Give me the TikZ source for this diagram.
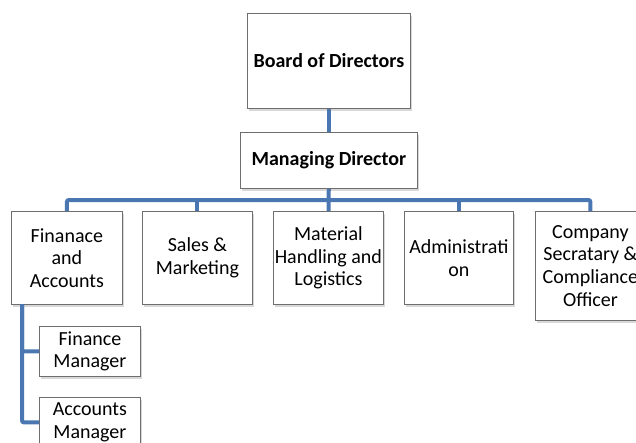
\documentclass[tikz,border=0pt]{standalone}
\usepackage{fontspec}
\setmainfont{Carlito}
\usetikzlibrary{positioning,shadows}

\definecolor{linkblue}{RGB}{74,118,178}
\definecolor{boxgray}{RGB}{110,110,110}

\tikzset{
  post/.style={draw=boxgray, line width=0.8pt, fill=white, align=center,
    inner sep=0pt, anchor=north west,
    drop shadow={shadow xshift=2pt, shadow yshift=-2.5pt, fill=black!30},
    font=\fontsize{20}{22.7}\selectfont},
  link/.style={draw=linkblue, line width=4pt, rounded corners=2pt}
}

\begin{document}
\begin{tikzpicture}[x=1pt, y=-1pt]
      \useasboundingbox (0,0) rectangle (636,442);

      \node[post, minimum width=163pt, minimum height=95pt] (bod) at (247,13) {\textbf{Board of Directors}};
      \node[post, minimum width=177pt, minimum height=56pt] (md) at (240,132) {\textbf{Managing Director}};

      \node[post, minimum width=111pt, minimum height=93pt] (fin) at (11,211) {Finanace\\and\\Accounts};
      \node[post, minimum width=110pt, minimum height=93pt] (sal) at (142,211) {Sales \&\\Marketing};
      \node[post, minimum width=110pt, minimum height=93pt] (mat) at (273,211) {Material\\Handling and\\Logistics};
      \node[post, minimum width=109pt, minimum height=93pt] (adm) at (404,211) {Administrati\\on};
      \node[post, minimum width=110pt, minimum height=109pt] (csc) at (535,211) {Company\\Secratary \&\\Compliance\\Officer};

      \node[post, minimum width=101pt, minimum height=50pt] (fmg) at (39,326) {Finance\\Manager};
      \node[post, minimum width=101pt, minimum height=50pt] (amg) at (39,397) {Accounts\\Manager};

      \coordinate (bus) at (328,200);
      \coordinate (fintap) at (22,304);

      \draw[link] (bod) -- (md);
      \draw[link] (md) -- (mat);
      \draw[link] (fin.north) |- (bus) -| (csc.north);
      \draw[link] (sal.north) -- (sal.north |- bus);
      \draw[link] (adm.north) -- (adm.north |- bus);
      \draw[link] (fintap) |- (fmg.west);
      \draw[link] (fintap) |- (amg.west);
\end{tikzpicture}
\end{document}
